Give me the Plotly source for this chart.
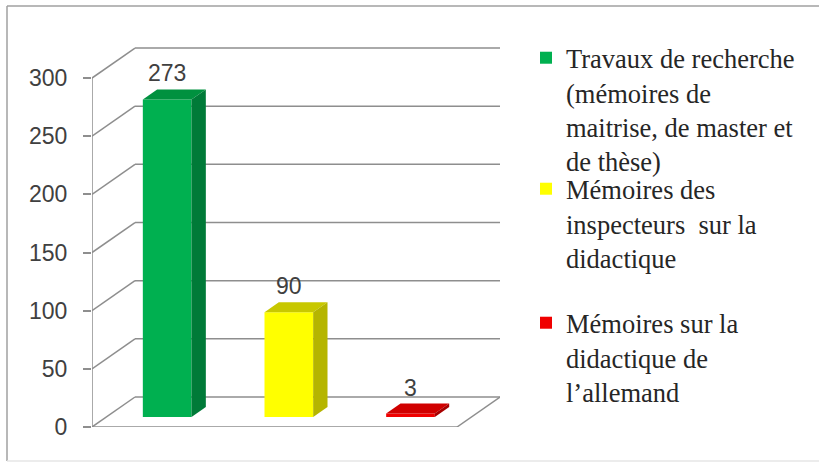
import plotly.graph_objects as go

# ---- data ----
categories = [
    "Travaux de recherche<br>(mémoires de<br>maitrise, de master et<br>de thèse)",
    "Mémoires des<br>inspecteurs  sur la<br>didactique",
    "Mémoires sur la<br>didactique de<br>l’allemand",
]
values = [273, 90, 3]
tick_values = [0, 50, 100, 150, 200, 250, 300]

front_colors = ["#00B050", "#FFFF00", "#F00000"]
side_colors = ["#007A38", "#B5B500", "#A80000"]
top_colors = ["#00913F", "#C8C800", "#D00000"]

# ---- geometry (pixel layout) ----
W, H = 819, 463
L_PX, R_PX, T_PX, B_PX = 92, 500, 46, 427
PX_PER_X = 121.67
PX_PER_Y = 1.1633
x_lo = -0.5
x_hi = x_lo + (R_PX - L_PX) / PX_PER_X
y_hi = (B_PX - T_PX) / PX_PER_Y
DX = 43 / PX_PER_X   # depth offset in x units
DY = 30 / PX_PER_Y   # depth offset in y units
BAR_W = 0.4

fig = go.Figure()
annotations = []

legend_names = ["legend", "legend2", "legend3"]
for i, (cat, v) in enumerate(zip(categories, values)):
    xc = i + DX / 3
    base = DY / 3
    fig.add_trace(go.Bar(
        x=[xc], y=[v], base=[base], width=[BAR_W],
        marker=dict(color=front_colors[i], line=dict(width=0)),
        name=cat, legend=legend_names[i], hoverinfo="skip",
    ))
    xl, xr = xc - BAR_W / 2, xc + BAR_W / 2
    top = base + v
    d_x, d_y = DX / 3, DY / 3
    fig.add_trace(go.Scatter(
        x=[xl, xr, xr + d_x, xl + d_x, xl],
        y=[top, top, top + d_y, top + d_y, top],
        fill="toself", fillcolor=top_colors[i], mode="lines",
        line=dict(width=0, color=top_colors[i]), showlegend=False, hoverinfo="skip",
    ))
    fig.add_trace(go.Scatter(
        x=[xr, xr, xr + d_x, xr + d_x, xr],
        y=[base, top, top + d_y, base + d_y, base],
        fill="toself", fillcolor=side_colors[i], mode="lines",
        line=dict(width=0, color=side_colors[i]), showlegend=False, hoverinfo="skip",
    ))
    annotations.append(dict(
        x=xc, y=top + d_y, xref="x", yref="y", text=str(v), showarrow=False,
        yanchor="bottom", xanchor="center", yshift=1,
        font=dict(family="Liberation Sans", size=23, color="#404040"),
    ))

grid_col = "#8E8E8E"
shapes = []
for t in tick_values:
    shapes.append(dict(type="line", xref="x", yref="y", x0=x_lo, y0=t, x1=x_lo + DX, y1=t + DY,
                       line=dict(color=grid_col, width=1.5), layer="below"))
    shapes.append(dict(type="line", xref="x", yref="y", x0=x_lo + DX, y0=t + DY, x1=x_hi, y1=t + DY,
                       line=dict(color=grid_col, width=1.5), layer="below"))
shapes.append(dict(type="line", xref="x", yref="y", x0=x_lo, y0=0, x1=x_lo, y1=tick_values[-1],
                   line=dict(color=grid_col, width=1.5), layer="below"))
n = len(categories)
shapes.append(dict(type="line", xref="x", yref="y", x0=x_lo, y0=0, x1=x_lo + n, y1=0,
                   line=dict(color=grid_col, width=1.5), layer="below"))
shapes.append(dict(type="line", xref="x", yref="y", x0=x_lo + n, y0=0, x1=x_lo + n + DX, y1=DY,
                   line=dict(color=grid_col, width=1.5), layer="below"))
pw, ph = R_PX - L_PX, B_PX - T_PX
bx0, bx1 = (7 - L_PX) / pw, (W - L_PX) / pw
by0, by1 = (B_PX - 461) / ph, (B_PX - 6) / ph
border = dict(color="#A0A0A0", width=1.5)
shapes.append(dict(type="line", xref="paper", yref="paper", x0=bx0, x1=bx1, y0=by1, y1=by1,
                   line=border, layer="below"))
shapes.append(dict(type="line", xref="paper", yref="paper", x0=bx0, x1=bx0, y0=by0, y1=by1,
                   line=border, layer="below"))
shapes.append(dict(type="line", xref="paper", yref="paper", x0=bx0, x1=bx1, y0=by0, y1=by0,
                   line=dict(color="#E6E6E6", width=1.5), layer="below"))

legend_font = dict(family="Times New Roman, Liberation Serif, serif", size=26.5, color="#262626")
def leg(top_px):
    return dict(x=(526 - L_PX) / pw, xanchor="left", y=(B_PX - top_px) / ph, yanchor="top",
                font=legend_font, valign="top", bgcolor="rgba(0,0,0,0)", borderwidth=0)

fig.update_layout(
    width=W, height=H,
    margin=dict(l=L_PX, r=W - R_PX, t=T_PX, b=H - B_PX, autoexpand=False),
    paper_bgcolor="white", plot_bgcolor="white",
    barmode="overlay",
    showlegend=True,
    shapes=shapes,
    annotations=annotations,
    xaxis=dict(range=[x_lo, x_hi], visible=False, fixedrange=True),
    yaxis=dict(range=[0, y_hi], tickvals=tick_values, ticks="outside", ticklen=8,
               tickcolor=grid_col, tickwidth=1.5, showgrid=False, zeroline=False, showline=False,
               tickfont=dict(family="Liberation Sans", size=23, color="#404040"),
               ticklabelstandoff=11, fixedrange=True),
    legend=leg(34),
    legend2=leg(165),
    legend3=leg(299),
)

fig.write_html("out.html", config={"displayModeBar": False},
               post_script="document.body.style.margin='0'; document.body.style.overflow='hidden';")
